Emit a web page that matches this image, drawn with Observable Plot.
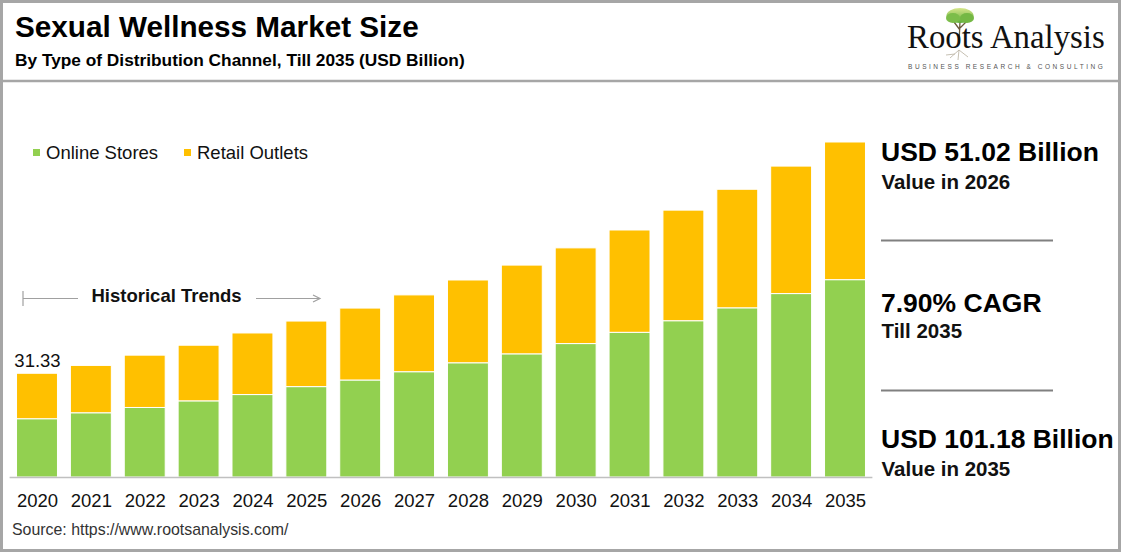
<!DOCTYPE html>
<html>
<head>
<meta charset="utf-8">
<script src="https://cdn.jsdelivr.net/npm/d3@7"></script>
<script src="https://cdn.jsdelivr.net/npm/@observablehq/plot@0.6"></script>
<style>
  html, body { margin: 0; padding: 0; background: #fff; }
  #frame { position: relative; width: 1121px; height: 552px; box-sizing: border-box;
           border: 3px solid #a6a6a6; background: #fff; overflow: hidden; }
  .t { position: absolute; white-space: nowrap; line-height: 1; font-family: "Liberation Sans", Arial, sans-serif; }
  #chart { position: absolute; left: -3px; top: 87px; }
  #deco { position: absolute; left: -3px; top: -3px; }
</style>
</head>
<body>
<div id="frame">
  <div id="chart"></div>
  <svg id="deco" width="1123" height="553"></svg>
</div>
<script>
// ---- data ----
const years = ["2020","2021","2022","2023","2024","2025","2026","2027","2028","2029","2030","2031","2032","2033","2034","2035"];
const onlineStores  = [17.6, 19.4, 21.0, 23.0, 24.9, 27.3, 29.3, 31.8, 34.5, 37.2, 40.3, 43.7, 47.2, 51.1, 55.4, 59.6];
const retailOutlets = [13.73, 14.3, 15.8, 16.8, 18.6, 19.8, 21.72, 23.2, 25.0, 26.8, 28.9, 30.9, 33.4, 35.8, 38.5, 41.58];
const seriesNames = ["Online Stores", "Retail Outlets"];
const seriesColors = ["#92D050", "#FFC000"];
const labelYears = ["2020"];
const labelTexts = ["31.33"];
const titleText = "Sexual Wellness Market Size";
const subtitleText = "By Type of Distribution Channel, Till 2035 (USD Billion)";
const sourceText = "Source: https://www.rootsanalysis.com/";
const annotationText = "Historical Trends";
const panelHeads = ["USD 51.02 Billion", "7.90% CAGR", "USD 101.18 Billion"];
const panelSubs = ["Value in 2026", "Till 2035", "Value in 2035"];

// ---- table for Plot ----
const rows = years.flatMap((y, i) => [
  {year: y, series: seriesNames[0], value: onlineStores[i]},
  {year: y, series: seriesNames[1], value: retailOutlets[i]}
]);
const totals = years.map((y, i) => ({year: y, total: onlineStores[i] + retailOutlets[i]}));
const labels = labelYears.map((y, i) => ({year: y, total: totals[years.indexOf(y)].total, text: labelTexts[i]}));

const chart = Plot.plot({
  width: 880,
  height: 430,
  marginLeft: 3.6,
  marginRight: 1.6,
  marginTop: 40,
  marginBottom: 43,
  x: {domain: years, padding: 0.24, round: false, label: null},
  y: {domain: [0, 104.8], axis: null},
  color: {domain: seriesNames, range: seriesColors},
  style: {fontFamily: "'Liberation Sans', Arial, sans-serif", fontSize: "18px", color: "#111", background: "transparent"},
  marks: [
    Plot.barY(rows, Plot.stackY({x: "year", y: "value", fill: "series", stroke: "white", strokeWidth: 1})),
    Plot.ruleY([0], {stroke: "#c0c0c0", strokeWidth: 1.5, insetLeft: 6, insetRight: 6}),
    Plot.text(labels, {x: "year", y: "total", text: "text", dy: -13, fontSize: 18.5, fill: "#111"}),
    Plot.axisX({tickSize: 0, tickPadding: 16, fontSize: 18.5, label: null})
  ]
});
document.getElementById("chart").appendChild(chart);

// ---- text placement helper (absolute, by baseline, page coordinates) ----
const frame = document.getElementById("frame");
function place(text, x, baseline, size, opts = {}) {
  const d = document.createElement("div");
  d.className = "t";
  d.textContent = text;
  const asc = opts.serif ? 0.8375 : 0.8465;
  d.style.left = (x - 3) + "px";
  d.style.top = (baseline - asc * size - 3) + "px";
  d.style.fontSize = size + "px";
  d.style.fontWeight = opts.bold ? "bold" : "normal";
  d.style.color = opts.color || "#000";
  if (opts.serif) d.style.fontFamily = "'Liberation Serif', 'Times New Roman', serif";
  if (opts.ls) d.style.letterSpacing = opts.ls + "px";
  frame.appendChild(d);
  return d;
}

// title & subtitle
place(titleText, 15, 37.5, 29.7, {bold: true});
place(subtitleText, 15, 66.5, 17.3, {bold: true});

// logo text
place("Roots Analysis", 907, 48, 32.8, {serif: true, color: "#111"});
place("BUSINESS RESEARCH & CONSULTING", 908, 70, 6.5, {color: "#555", ls: 2.55});

// legend
const legendX = [33, 184];
seriesNames.forEach((s, i) => {
  const sw = document.createElement("div");
  sw.style.cssText = `position:absolute;left:${legendX[i]-3}px;top:${149-3}px;width:7px;height:7px;background:${seriesColors[i]}`;
  frame.appendChild(sw);
  place(s, legendX[i] + 13, 160, 18.5, {color: "#111"});
});

// annotation
place(annotationText, 91.5, 302.5, 18.5, {bold: true, color: "#111"});

// right panel
const headBase = [161.7, 312.5, 448.5];
const subBase = [189, 338.5, 476.5];
panelHeads.forEach((h, i) => {
  place(h, 881, headBase[i], 26.5, {bold: true});
  place(panelSubs[i], 881.5, subBase[i], 20.5, {bold: true, color: "#111"});
});

// source
place(sourceText, 12, 535, 15.9, {color: "#333"});

// ---- decorations ----
const deco = d3.select("#deco");
// header divider
deco.append("line").attr("x1", 0).attr("x2", 1123).attr("y1", 81).attr("y2", 81)
  .attr("stroke", "#a6a6a6").attr("stroke-width", 2.5);
// panel separators
[240.5, 390.5].forEach(y => deco.append("line").attr("x1", 881).attr("x2", 1053)
  .attr("y1", y).attr("y2", y).attr("stroke", "#808080").attr("stroke-width", 2.2));
// historical trends bracket + arrow
const g = deco.append("g").attr("stroke", "#a0a0a0").attr("stroke-width", 1.2).attr("fill", "none");
g.append("line").attr("x1", 23).attr("x2", 23).attr("y1", 291).attr("y2", 306);
g.append("line").attr("x1", 23).attr("x2", 78).attr("y1", 298.5).attr("y2", 298.5);
g.append("line").attr("x1", 256).attr("x2", 320).attr("y1", 298.5).attr("y2", 298.5);
g.append("path").attr("d", "M313,295 L320,298.5 L313,302");
// logo tree
const defs = deco.append("defs");
const grad = defs.append("linearGradient").attr("id", "tg").attr("x1", 0).attr("y1", 0).attr("x2", 0).attr("y2", 1);
grad.append("stop").attr("offset", "0%").attr("stop-color", "#d6e68a");
grad.append("stop").attr("offset", "100%").attr("stop-color", "#5fae3a");
const tree = deco.append("g");
tree.append("path").attr("d", "M960,21 L959,44 M960,30 L954,22 M960,28 L967,21")
  .attr("stroke", "#6b5a3a").attr("stroke-width", 1.3).attr("fill", "none");
tree.append("ellipse").attr("cx", 960).attr("cy", 15.5).attr("rx", 13.5).attr("ry", 7.5).attr("fill", "url(#tg)");
tree.append("ellipse").attr("cx", 953).attr("cy", 18).attr("rx", 7).attr("ry", 5).attr("fill", "#7cbd4a");
tree.append("ellipse").attr("cx", 967).attr("cy", 18).attr("rx", 7).attr("ry", 5).attr("fill", "#74b844");
tree.append("path").attr("d", "M959,50 L950,58 M959,50 L958,60 M959,50 L968,57 M955,54 L946,55")
  .attr("stroke", "#b8b0a0").attr("stroke-width", 0.8).attr("fill", "none");
</script>
</body>
</html>
